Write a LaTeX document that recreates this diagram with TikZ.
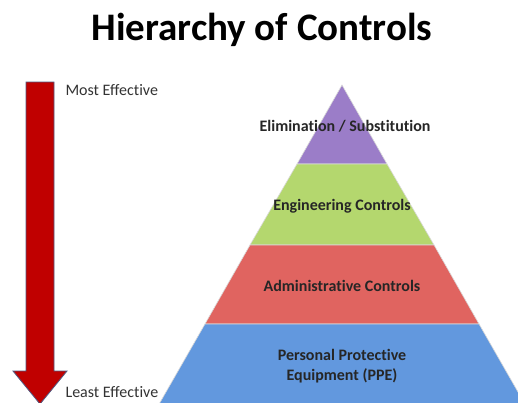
\documentclass[tikz,border=0pt]{standalone}
\usepackage{fontspec}
\setmainfont[Ligatures=NoCommon]{Carlito}
\begin{document}
\begin{tikzpicture}[x=1pt,y=-1pt,
  layertext/.style={font=\bfseries\fontsize{16}{19.5}\selectfont,text=black!85,align=center},
  sidetext/.style={font=\fontsize{16}{18}\selectfont,text=black!80,anchor=west},
  layer/.style={draw=white!85!black,line width=0.6pt}]
\useasboundingbox (0,0) rectangle (518,402);
\fill[white] (0,0) rectangle (518,402);
\node[font=\bfseries\fontsize{39}{44}\selectfont] (title) at (262,30) {Hierarchy of Controls};
% arrow
\draw[fill={rgb,255:red,192;green,0;blue,0},draw={rgb,255:red,80;green,90;blue,130},line width=0.8pt]
  (26,82) -- (54,82) -- (54,371) -- (67,371) -- (40,404) -- (13,371) -- (26,371) -- cycle;
\node[sidetext] (most) at (62,90) {Most Effective};
\node[sidetext] (least) at (62,392) {Least Effective};
% pyramid
\begin{scope}
\clip (0,0) rectangle (518,402);
\fill[layer,fill={rgb,255:red,155;green,125;blue,200}] (342,85) -- (387,164) -- (297,164) -- cycle;
\fill[layer,fill={rgb,255:red,180;green,215;blue,110}] (297,164) -- (387,164) -- (434,245) -- (250,245) -- cycle;
\fill[layer,fill={rgb,255:red,224;green,100;blue,96}] (250,245) -- (434,245) -- (479,324) -- (205,324) -- cycle;
\fill[layer,fill={rgb,255:red,98;green,152;blue,222}] (205,324) -- (479,324) -- (526,406) -- (158,406) -- cycle;
\end{scope}
\node[layertext] (elim) at (345,126) {Elimination / Substitution};
\node[layertext] (eng) at (342,206) {Engineering Controls};
\node[layertext] (adm) at (342,286) {Administrative Controls};
\node[layertext] (ppe) at (342,366) {Personal Protective\\Equipment (PPE)};
\end{tikzpicture}
\end{document}
